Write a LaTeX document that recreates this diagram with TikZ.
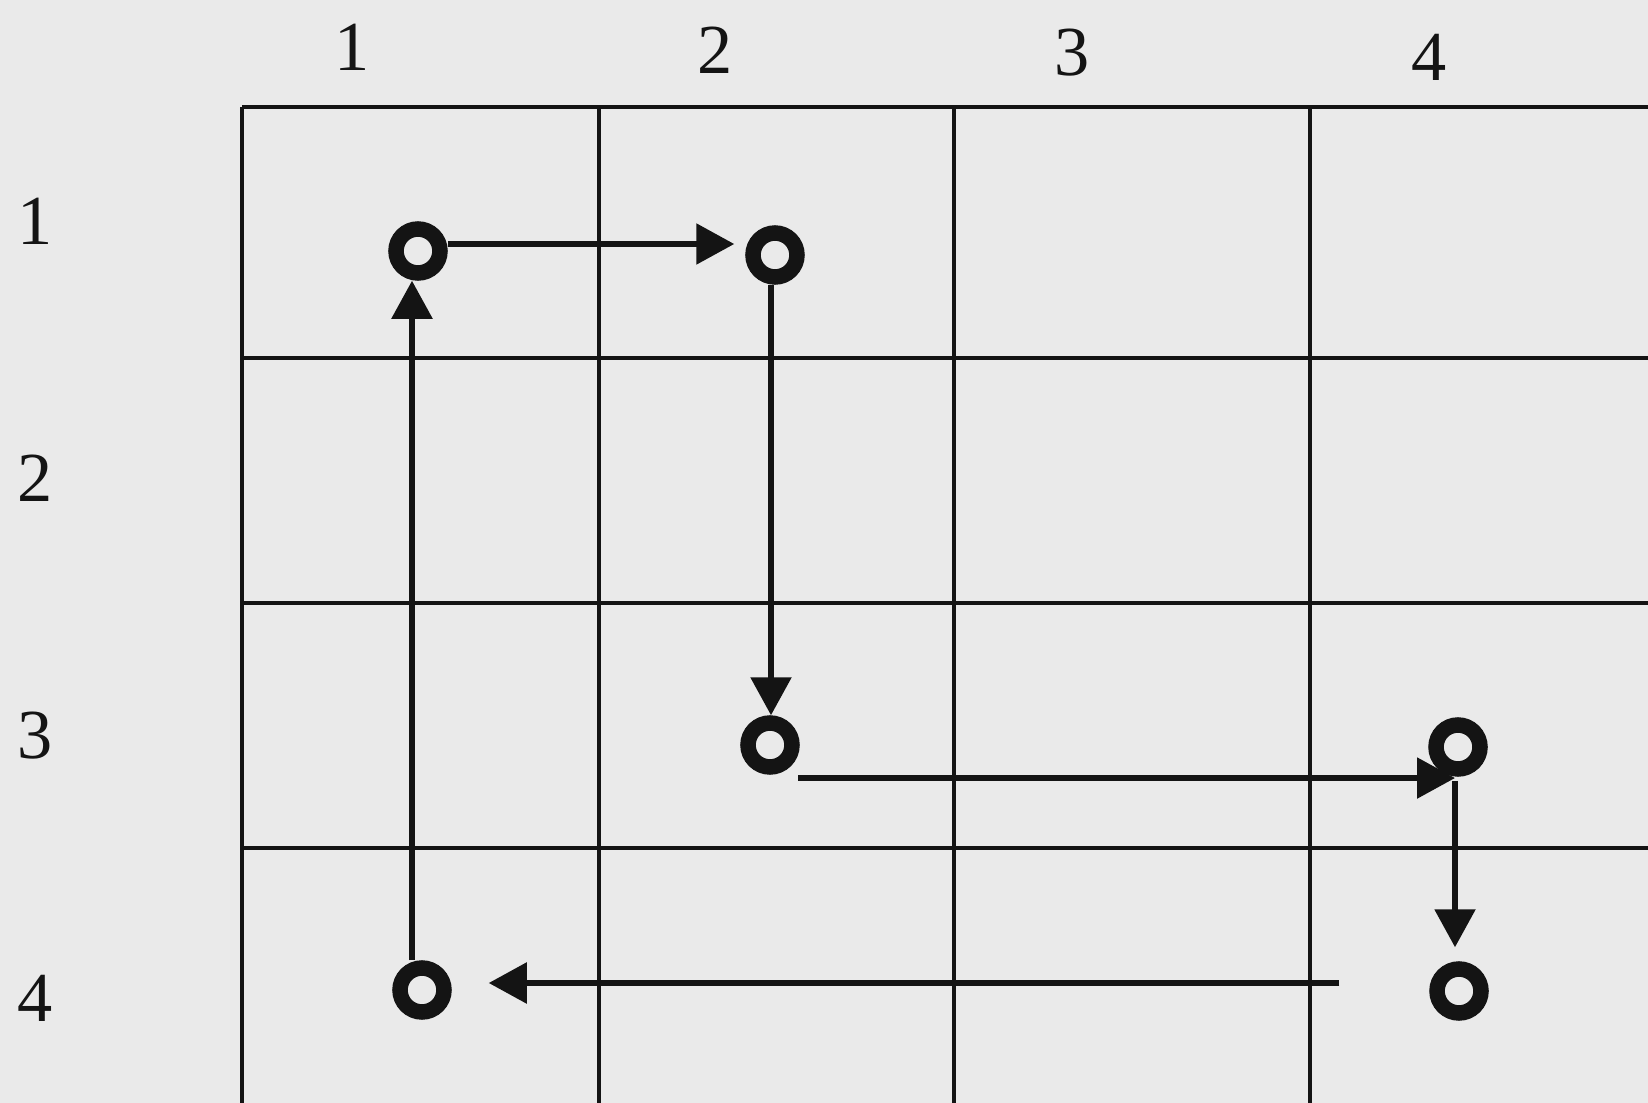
\documentclass[tikz,border=0pt]{standalone}
\usepackage{fontspec}
\setmainfont{Liberation Serif}
\usetikzlibrary{positioning,arrows.meta,calc}
\definecolor{cpaper}{HTML}{EAEAEA}
\definecolor{cink}{HTML}{141414}
\tikzset{
  grd/.style ={cink,line width=1.1pt},
  dot/.style ={circle,draw=cink,line width=0.155cm,minimum size=0.44cm,inner sep=0pt},
  arr/.style ={-{Triangle[length=0.38cm,width=0.40cm]},cink,line width=1.6pt},
  lbl/.style ={text=cink,font=\fontsize{20}{23}\selectfont,inner sep=0pt},
}

\begin{document}
\begin{tikzpicture}
 % paper
 \fill[cpaper] (0,0) rectangle (16.48,-11.03);
 \useasboundingbox (0,0) rectangle (16.48,-11.03);
 % grid
 \foreach \x in {2.42,5.99,9.54,13.10}
   \draw[grd] (\x,-1.07) -- (\x,-11.03);
 \foreach \y in {1.07,3.58,6.03,8.48}
   \draw[grd] (2.42,-\y) -- (16.48,-\y);
 % labels
 \foreach \x/\y/\t in {3.52/0.47/1,7.15/0.50/2,10.72/0.53/3,14.29/0.57/4}
   \node[lbl] (col\t) at (\x,-\y) {\t};
 \foreach \y/\t in {2.21/1,4.78/2,7.36/3,9.98/4}
   \node[lbl] (row\t) at (0.35,-\y) {\t};
 % cells
 \node[dot] (c11) at (4.18,-2.51) {};
 \node[dot] (c12) at (7.75,-2.55) {};
 \node[dot] (c32) at (7.70,-7.45) {};
 \node[dot] (c34) at (14.58,-7.47) {};
 \node[dot] (c44) at (14.59,-9.91) {};
 \node[dot] (c41) at (4.22,-9.90) {};
 \coordinate (s3) at ([shift={(0.07,-0.12)}]c32.south east);
 \coordinate (k3) at ([xshift=-0.03cm,yshift=-0.04cm]c34.south);
 \coordinate (s5) at ([xshift=-0.90cm,yshift=0.08cm]c44.west);
 % tour
 \draw[arr,shorten >=0.11cm] ([yshift=0.07cm]c11.east) -- ([yshift=0.07cm]c11.east -| c12.west);
 \draw[arr] ([xshift=-0.04cm]c12.south) -- ([xshift=-0.04cm]c12.south |- c32.north);
 \draw[arr] (s3) -- (s3 -| k3);
 \draw[arr,shorten >=0.14cm] (k3) -- (k3 |- c44.north);
 \draw[arr,shorten >=0.37cm] (s5) -- (s5 -| c41.east);
 \draw[arr] ([xshift=-0.10cm]c41.north) -- ([xshift=-0.10cm]c41.north |- c11.south);
\end{tikzpicture}
\end{document}
